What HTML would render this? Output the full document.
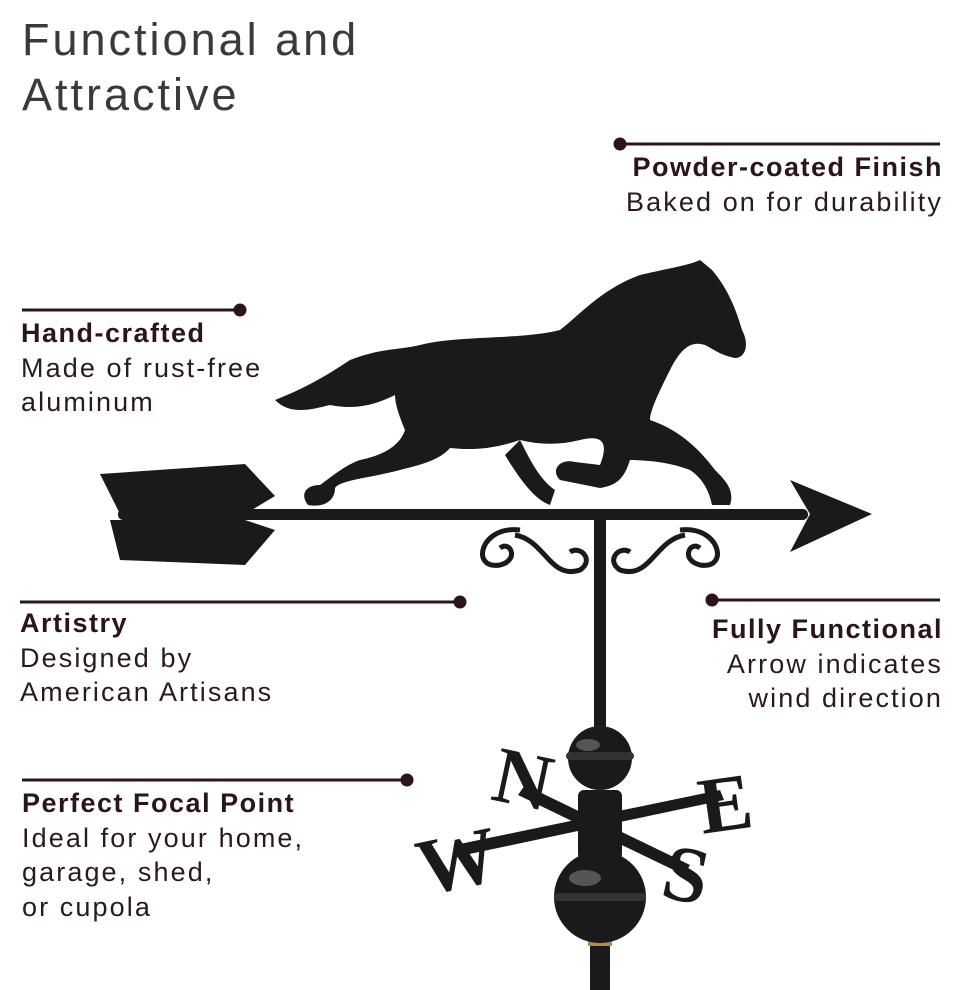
<!DOCTYPE html>
<html><head><style>
body{margin:0;width:962px;height:990px;background:#fff;overflow:hidden;position:relative;font-family:"Liberation Sans",sans-serif;color:#2b1a1a}
.t{position:absolute;font-size:27px;line-height:34.5px;white-space:nowrap;letter-spacing:2.1px}
.t b{font-weight:bold;color:#2b1518;letter-spacing:1.5px}
.r{text-align:right}
h1{position:absolute;left:22px;top:12px;margin:0;font-weight:normal;font-size:45px;line-height:55px;color:#3a3a3a;letter-spacing:3px}
</style></head><body>
<h1>Functional and<br>Attractive</h1>
<svg width="962" height="990" style="position:absolute;left:0;top:0">
<g stroke="#2b1518" stroke-width="3" fill="#2b1518">
<line x1="620" y1="144" x2="940" y2="144"/><circle cx="620" cy="144" r="5"/>
<line x1="22" y1="310" x2="240" y2="310"/><circle cx="240" cy="310" r="5"/>
<line x1="20" y1="602" x2="460" y2="602"/><circle cx="460" cy="602" r="5"/>
<line x1="712" y1="600" x2="940" y2="600"/><circle cx="712" cy="600" r="5"/>
<line x1="22" y1="780" x2="407" y2="780"/><circle cx="407" cy="780" r="5"/>
</g>
<g fill="#1a1a1a" stroke="none">
<rect x="594" y="515" width="12" height="220"/>
<rect x="590" y="930" width="20" height="60"/>
<rect x="588" y="938" width="24" height="8" fill="#b08a4a"/>
<rect x="118" y="509" width="690" height="11" rx="5"/>
<path d="M790 480 L872 514 L790 552 L810 514 Z"/>
<path d="M100 474 L245 464 L275 496 L245 514 L120 514 Z"/>
<path d="M110 520 L245 520 L275 530 L245 565 L120 560 Z"/>
<g fill="none" stroke="#1a1a1a" stroke-width="5">
<path d="M520 530 C480 525 470 570 500 565 C520 560 510 540 500 548"/>
<path d="M515 535 C545 540 550 580 580 570 C595 560 580 545 570 552"/>
<path d="M680 530 C720 525 730 570 700 565 C680 560 690 540 700 548"/>
<path d="M685 535 C655 540 650 580 620 570 C605 560 620 545 630 552"/>
</g>
<path d="M275 400 C300 390 320 380 350 360 C380 348 400 350 420 345 C460 335 520 340 560 330 C580 315 600 290 640 275 C670 268 690 265 700 260 L712 270 C725 285 735 305 742 330 C750 345 745 358 735 358 C720 355 715 350 705 345 C690 340 680 350 670 370 C660 390 650 410 650 420 C680 430 700 450 715 470 C725 480 735 490 730 505 L712 505 C710 495 705 480 690 470 C670 462 645 460 630 460 C625 475 620 485 600 488 L560 480 C550 470 560 458 575 462 L600 465 C610 440 600 435 580 440 C560 445 540 445 520 440 C490 450 470 450 450 448 C440 460 420 465 400 470 C370 478 340 480 335 488 C335 500 325 508 308 505 C300 495 305 485 320 485 C330 478 345 465 360 460 C385 455 400 445 405 430 C400 418 395 405 395 395 C375 405 355 410 330 405 C310 410 290 415 275 400 Z"/>
<path d="M520 440 C530 460 540 480 555 490 L550 505 C535 500 520 480 505 455 Z"/>
<path d="M455 845 L720 790 L724 800 L460 856 Z"/>
<path d="M525 785 L690 865 L684 875 L518 795 Z"/>
<rect x="578" y="790" width="44" height="70" rx="6"/>
<circle cx="600" cy="758" r="32"/>
<rect x="566" y="752" width="68" height="8" rx="4" fill="#333"/>
<circle cx="600" cy="897" r="46"/>
<rect x="554" y="893" width="92" height="8" rx="4" fill="#333"/>
<ellipse cx="588" cy="745" rx="12" ry="6" fill="#555"/>
<ellipse cx="585" cy="878" rx="16" ry="8" fill="#555"/>
</g>
<g font-family="Liberation Serif,serif" font-weight="bold" font-size="80" fill="#1a1a1a">
<text x="495" y="805" transform="rotate(12 520 775)">N</text>
<text x="698" y="830" transform="rotate(-8 728 800)">E</text>
<text x="415" y="888" transform="rotate(-12 455 850)">W</text>
<text x="665" y="902" transform="rotate(12 690 870)">S</text>
</g>
</svg>
<div class="t r" style="right:19px;top:150px"><b>Powder-coated Finish</b><br>Baked on for durability</div>
<div class="t" style="left:21px;top:316px"><b>Hand-crafted</b><br>Made of rust-free<br>aluminum</div>
<div class="t" style="left:20px;top:606px"><b>Artistry</b><br>Designed by<br>American Artisans</div>
<div class="t r" style="right:19px;top:612px"><b>Fully Functional</b><br>Arrow indicates<br>wind direction</div>
<div class="t" style="left:22px;top:786px"><b>Perfect Focal Point</b><br>Ideal for your home,<br>garage, shed,<br>or cupola</div>
</body></html>
